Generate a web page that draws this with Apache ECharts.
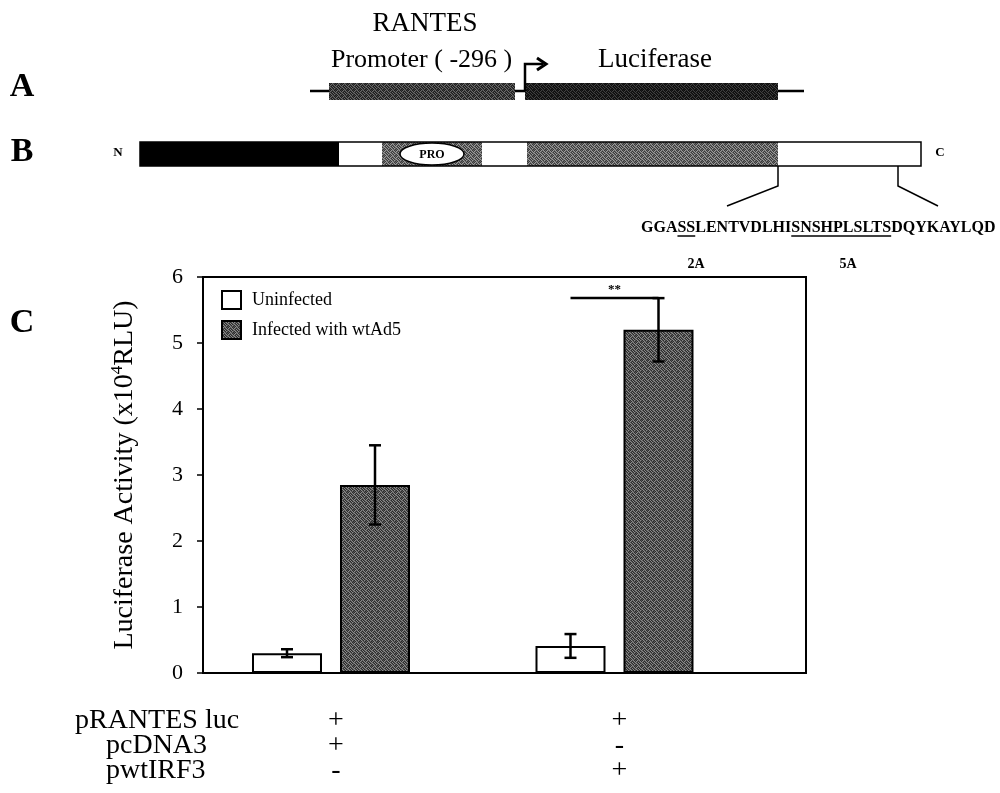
<!DOCTYPE html>
<html><head><meta charset="utf-8">
<script src="https://cdn.jsdelivr.net/npm/echarts@6/dist/echarts.min.js"></script>
<style>html,body{margin:0;padding:0;background:#fff}#c{width:1000px;height:793px}</style>
</head><body><div id="c"></div>
<script>
// ---- data ----
const groups = [1, 2];
const uninfected = [0.30, 0.41];
const uninfectedErr = [0.06, 0.18];
const infected = [2.85, 5.20];
const infectedErr = [0.60, 0.48];
const seriesNames = ['Uninfected', 'Infected with wtAd5'];
const rowLabels = ['pRANTES luc', 'pcDNA3', 'pwtIRF3'];
const rowSigns = [['+', '+'], ['+', '-'], ['-', '+']];
const sigLabel = '**';
const sequence = 'GGASSLENTVDLHISNSHPLSLTSDQYKAYLQD';
const underlined = [[3, 5], [14, 24]];
const mutLabels = ['2A', '5A'];
const mutLabelX = [696, 848];

// ---- layout / style ----
const SERIF = '"Liberation Serif", "Times New Roman", serif';
const BAR_W = 70, BAR_GAP = 18;
const OFF = (BAR_W + BAR_GAP) / 2;
const X_MIN = 0.5485, X_MAX = 2.6755;

// halftone-like texture (fixed dither matrix, purely decorative)
function makePattern(levels) {
  const M = [
    [0, 2, 1, 2, 0, 1],
    [2, 1, 0, 1, 2, 0],
    [1, 0, 2, 0, 1, 2],
    [2, 1, 0, 2, 0, 1],
    [0, 2, 1, 0, 2, 1],
    [1, 0, 2, 1, 1, 0]
  ];
  const c = document.createElement('canvas');
  c.width = 6; c.height = 6;
  const g = c.getContext('2d');
  for (let y = 0; y < 6; y++) for (let x = 0; x < 6; x++) {
    g.fillStyle = levels[M[y][x]];
    g.fillRect(x, y, 1, 1);
  }
  return c;
}
const barTex = makePattern(['#2c2c2c', '#555555', '#8a8a8a']);
const greyFill = {image: barTex, repeat: 'repeat'};
const bTex = makePattern(['#3a3a3a', '#666666', '#9a9a9a']);
const aTex1 = makePattern(['#1c1c1c', '#3c3c3c', '#6a6a6a']);
const aTex2 = makePattern(['#0c0c0c', '#1c1c1c', '#404040']);

const chart = echarts.init(document.getElementById('c'), null, {renderer: 'canvas'});

function errItem(side) {
  return function (params, api) {
    const x = api.value(0), y = api.value(1), e = api.value(2);
    const top = api.coord([x, y + e]);
    const bot = api.coord([x, y - e]);
    const cx = top[0] + side * OFF;
    const st = {stroke: '#000', lineWidth: 2.5};
    return {type: 'group', children: [
      {type: 'line', shape: {x1: cx, y1: top[1], x2: cx, y2: bot[1]}, style: st},
      {type: 'line', shape: {x1: cx - 6, y1: top[1], x2: cx + 6, y2: top[1]}, style: st},
      {type: 'line', shape: {x1: cx - 6, y1: bot[1], x2: cx + 6, y2: bot[1]}, style: st}
    ]};
  };
}

// sequence with underlined mutation sites
const mc = document.createElement('canvas').getContext('2d');
const SEQ_FONT = 'bold 16px "Liberation Serif"';
mc.font = SEQ_FONT;
const SEQ_X = 641, SEQ_Y = 228;
const seqGraphics = [{type: 'text', x: SEQ_X, y: SEQ_Y, style: {text: sequence, font: 'bold 16px ' + SERIF, fill: '#000', textAlign: 'left', textVerticalAlign: 'middle'}}];
underlined.forEach(function (u) {
  const x1 = SEQ_X + mc.measureText(sequence.slice(0, u[0])).width;
  const x2 = SEQ_X + mc.measureText(sequence.slice(0, u[1])).width;
  seqGraphics.push({type: 'line', shape: {x1: x1, y1: SEQ_Y + 8, x2: x2, y2: SEQ_Y + 8}, style: {stroke: '#000', lineWidth: 1.5}});
});
mutLabels.forEach(function (t, i) {
  seqGraphics.push({type: 'text', x: mutLabelX[i], y: 264, style: {text: t, font: 'bold 14px ' + SERIF, fill: '#000', textAlign: 'center', textVerticalAlign: 'middle'}});
});

function T(text, x, y, font, align) {
  return {type: 'text', x: x, y: y, style: {text: text, font: font, fill: '#000', textAlign: align || 'left', textVerticalAlign: 'middle'}};
}

const baseGraphics = [
  T('A', 22, 87, 'bold 34px ' + SERIF, 'center'),
  T('B', 22, 152, 'bold 34px ' + SERIF, 'center'),
  T('C', 22, 323, 'bold 34px ' + SERIF, 'center'),
  // panel A: reporter construct
  T('RANTES', 425, 24, '27px ' + SERIF, 'center'),
  T('Promoter ( -296 )', 331, 60, '26px ' + SERIF),
  T('Luciferase', 598, 60, '27px ' + SERIF),
  {type: 'line', shape: {x1: 310, y1: 91, x2: 804, y2: 91}, style: {stroke: '#000', lineWidth: 2.5}},
  {type: 'rect', shape: {x: 329, y: 83, width: 186, height: 17}, style: {fill: {image: aTex1, repeat: 'repeat'}}},
  {type: 'rect', shape: {x: 525, y: 83, width: 253, height: 17}, style: {fill: {image: aTex2, repeat: 'repeat'}}},
  {type: 'polyline', shape: {points: [[525, 91], [525, 64], [543, 64]]}, style: {stroke: '#000', lineWidth: 2.5, fill: null}},
  {type: 'polyline', shape: {points: [[537, 58], [546, 64], [537, 70]]}, style: {stroke: '#000', lineWidth: 3, fill: null}},
  // panel B: protein domains
  T('N', 118, 153, 'bold 13px ' + SERIF, 'center'),
  T('C', 940, 153, 'bold 13px ' + SERIF, 'center'),
  {type: 'rect', shape: {x: 140, y: 142, width: 199, height: 24}, style: {fill: '#000'}},
  {type: 'rect', shape: {x: 382, y: 142, width: 100, height: 24}, style: {fill: {image: bTex, repeat: 'repeat'}}},
  {type: 'rect', shape: {x: 527, y: 142, width: 251, height: 24}, style: {fill: {image: bTex, repeat: 'repeat'}}},
  {type: 'rect', shape: {x: 140, y: 142, width: 781, height: 24}, style: {fill: null, stroke: '#000', lineWidth: 1.5}},
  {type: 'ellipse', shape: {cx: 432, cy: 154, rx: 32, ry: 11}, style: {fill: '#fff', stroke: '#000', lineWidth: 1.5}},
  T('PRO', 432, 155, 'bold 12px ' + SERIF, 'center'),
  {type: 'polyline', shape: {points: [[778, 166], [778, 186], [727, 206]]}, style: {stroke: '#000', lineWidth: 1.5, fill: null}},
  {type: 'polyline', shape: {points: [[898, 166], [898, 186], [938, 206]]}, style: {stroke: '#000', lineWidth: 1.5, fill: null}}
];

const option = {
  animation: false,
  backgroundColor: '#fff',
  grid: {left: 203, right: 194, top: 277, bottom: 120, show: true, borderColor: '#000', borderWidth: 2, backgroundColor: 'transparent'},
  legend: {
    orient: 'vertical', left: 221, top: 290, padding: 0, itemGap: 10,
    itemWidth: 19, itemHeight: 18, icon: 'rect',
    data: seriesNames,
    textStyle: {fontFamily: SERIF, fontSize: 18, color: '#000', padding: [0, 0, 0, 6]}
  },
  xAxis: {
    type: 'value', min: X_MIN, max: X_MAX,
    axisLine: {show: true, onZero: false, lineStyle: {color: '#000', width: 2}},
    axisTick: {show: false}, axisLabel: {show: false}, splitLine: {show: false}
  },
  yAxis: {
    type: 'value', min: 0, max: 6, interval: 1,
    axisLine: {show: true, lineStyle: {color: '#000', width: 2}},
    axisTick: {show: true, length: 6, lineStyle: {color: '#000', width: 1.5}},
    splitLine: {show: false},
    axisLabel: {fontFamily: SERIF, fontSize: 22, color: '#000', margin: 20, padding: [14, 0, 0, 0]},
    name: '{a|Luciferase Activity (x10}{s|4}{a|RLU)}',
    nameLocation: 'middle', nameGap: 62, nameRotate: 90,
    nameTextStyle: {rich: {
      a: {fontFamily: SERIF, fontSize: 28, color: '#000', lineHeight: 32},
      s: {fontFamily: SERIF, fontSize: 17, color: '#000', lineHeight: 20, verticalAlign: 'top'}
    }}
  },
  series: [
    {type: 'bar', name: seriesNames[0], data: groups.map((g, i) => [g, uninfected[i]]),
      barWidth: BAR_W, barGap: (BAR_GAP / BAR_W * 100) + '%',
      itemStyle: {color: '#fff', borderColor: '#000', borderWidth: 2}},
    {type: 'bar', name: seriesNames[1], data: groups.map((g, i) => [g, infected[i]]),
      barWidth: BAR_W, barGap: (BAR_GAP / BAR_W * 100) + '%',
      itemStyle: {color: greyFill, borderColor: '#000', borderWidth: 2}},
    {type: 'custom', renderItem: errItem(-1), data: groups.map((g, i) => [g, uninfected[i], uninfectedErr[i]]), z: 5},
    {type: 'custom', renderItem: errItem(1), data: groups.map((g, i) => [g, infected[i], infectedErr[i]]), z: 5},
    {type: 'custom', z: 5, data: [[groups[1], infected[1] + infectedErr[1]]],
      renderItem: function (params, api) {
        const p = api.coord([api.value(0), api.value(1)]);
        return {type: 'group', children: [
          {type: 'line', shape: {x1: p[0] - OFF, y1: p[1], x2: p[0] + OFF, y2: p[1]}, style: {stroke: '#000', lineWidth: 2.5}},
          {type: 'text', style: {x: p[0], y: p[1] - 8, text: sigLabel, font: 'bold 13px ' + SERIF, fill: '#000', textAlign: 'center', textVerticalAlign: 'middle'}}
        ]};
      }}
  ],
  graphic: baseGraphics.concat(seqGraphics)
};
chart.setOption(option);

// condition table under the axis, columns placed via the x axis scale
const rowY = [721, 746, 771];
const rowX = [75, 106, 106];
const tableGraphics = [];
rowLabels.forEach(function (lab, r) {
  tableGraphics.push(T(lab, rowX[r], rowY[r], '28px ' + SERIF));
  groups.forEach(function (g, i) {
    const px = chart.convertToPixel({xAxisIndex: 0}, g);
    tableGraphics.push(T(rowSigns[r][i], px + 5, rowY[r], '28px ' + SERIF, 'center'));
  });
});
chart.setOption({graphic: baseGraphics.concat(seqGraphics).concat(tableGraphics)});
</script></body></html>
